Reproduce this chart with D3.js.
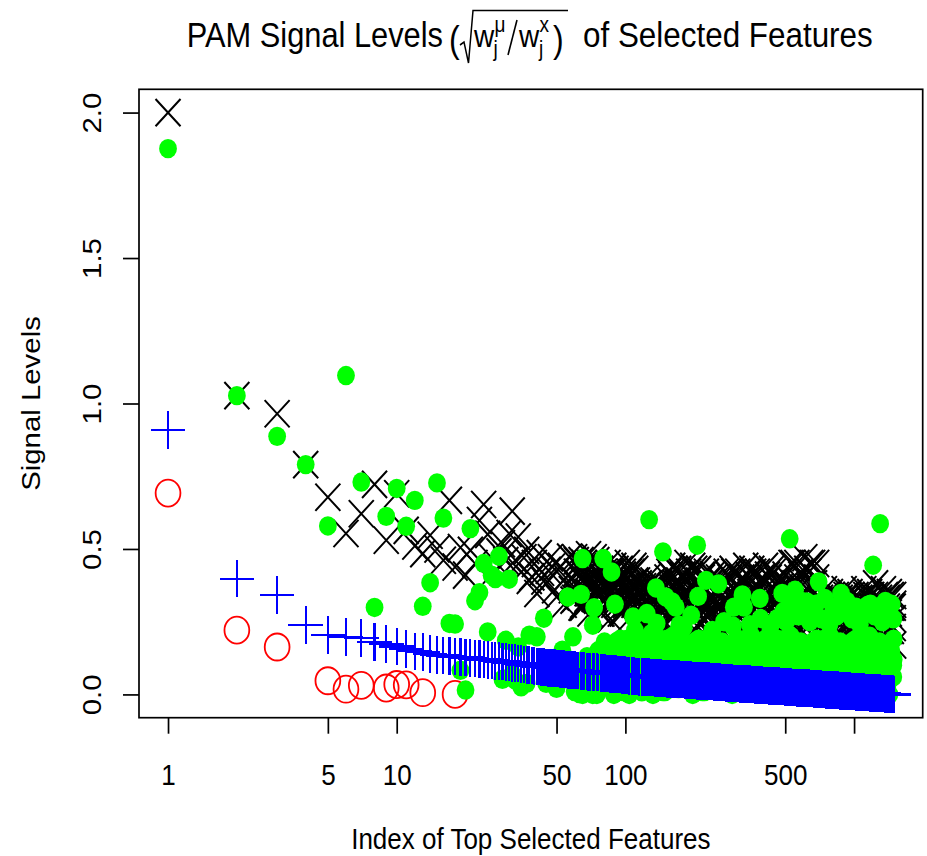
<!DOCTYPE html>
<html>
<head>
<meta charset="utf-8">
<script src="https://cdn.jsdelivr.net/npm/d3@7"></script>
<style>
  html, body { margin: 0; padding: 0; background: #fff; }
  svg { display: block; }
</style>
</head>
<body>
<svg id="chart" width="927" height="856"></svg>
<script>
// ---------------- data ----------------
const nFeatures = 1490;
const xTicks = [1, 5, 10, 50, 100, 500, 1000];
const xTickLabels = ['1', '5', '10', '50', '100', '500', ''];
const yTicks = [0, 0.5, 1.0, 1.5, 2.0];
const yTickLabels = ['0.0', '0.5', '1.0', '1.5', '2.0'];

// black crosses: [feature index, signal level] for the leading features
const blackEarly = [
  [1,2.0],[2,1.027],[3,0.965],[4,0.79],[5,0.678],[6,0.553],[7,0.621],[8,0.722],[9,0.53],[10,0.69],
  [11,0.564],[12,0.51],[13,0.484],[14,0.547],[15,0.5],[16,0.461],[17,0.667],[18,0.438],[19,0.505],[20,0.41],
  [21,0.495],[22,0.45],[23,0.598],[24,0.653],[25,0.55],[26,0.47],[27,0.427],[28,0.49],[29,0.518],[30,0.46],
  [31,0.553],[32,0.63],[33,0.461],[34,0.541],[35,0.42],[36,0.47],[37,0.495],[38,0.392],[39,0.404],[40,0.45],
  [41,0.347],[42,0.484],[43,0.42],[44,0.39],[45,0.381],[46,0.427],[47,0.47],[48,0.438],[49,0.36],[50,0.335],
  [52,0.44],[54,0.31],[55,0.40],[57,0.472],[58,0.36],[59,0.324]
];

// blue plus signs for features 1..59 (one value per index)
const blueEarly = [
  0.908,0.398,0.341,0.238,0.204,0.198,0.194,0.180,0.174,0.165,
  0.155,0.148,0.145,0.138,0.136,0.134,0.132,0.130,0.129,0.127,
  0.125,0.123,0.121,0.120,0.118,0.117,0.116,0.114,0.113,0.111,
  0.110,0.108,0.107,0.106,0.104,0.103,0.101,0.100,0.099,0.097,
  0.096,0.096,0.095,0.094,0.093,0.092,0.091,0.091,0.090,0.089,
  0.089,0.088,0.087,0.087,0.086,0.085,0.085,0.084,0.084
];

// red open circles
const redPts = [
  [1,0.692],[2,0.221],[3,0.163],[5,0.047],[6,0.018],[7,0.031],[9,0.022],[10,0.034],[11,0.033],[13,0.006],[18,0.0]
];

// green dots listed individually (leading features and the scattered high ones)
const greenPts = [
  [1,1.876],[2,1.027],[3,0.887],[4,0.79],[5,0.579],[6,1.096],[7,0.73],[8,0.299],[9,0.612],[10,0.708],
  [11,0.578],[12,0.667],[13,0.303],[14,0.384],[15,0.727],[16,0.606],[17,0.244],[18,0.242],[19,0.083],[20,0.015],
  [21,0.57],[22,0.322],[23,0.35],[24,0.45],[25,0.215],[26,0.41],[27,0.398],[28,0.475],[29,0.052],[30,0.186],
  [31,0.396],[32,0.07],[33,0.049],[34,0.163],[35,0.026],[37,0.038],[38,0.204],[41,0.198],[44,0.262],[45,0.038],
  [50,0.021],[53,0.152],[56,0.335],[59,0.198],[63,0.003],[64,0.344],[65,0.467],[72,0.238],[73,0.298],[75,0.0],
  [77,0.141],[80,0.467],[87,0.421],[90,0.31],[91,0.163],[101,0.175],[104,0.0],[108,0.266],[110,0.22],[118,0.009],
  [124,0.278],[127,0.601],[130,0.21],[136,0.366],[137,0.244],[146,0.49],[150,0.335],[160,0.318],[166,0.30],[172,0.238],
  [180,0.23],[194,0.272],[206,0.513],[208,0.337],[225,0.392],[240,0.22],[255,0.38],[270,0.25],[295,0.235],[298,0.30],
  [325,0.342],[330,0.30],[350,0.24],[387,0.33],[390,0.261],[413,0.192],[430,0.23],[460,0.26],[485,0.347],[490,0.284],
  [505,0.25],[523,0.535],[530,0.30],[552,0.358],[570,0.27],[590,0.32],[622,0.318],[640,0.25],[655,0.29],[680,0.31],
  [700,0.387],[720,0.26],[745,0.33],[780,0.24],[810,0.30],[840,0.27],[877,0.347],[900,0.29],[930,0.32],[980,0.26],
  [1020,0.30],[1060,0.24],[1100,0.28],[1150,0.307],[1180,0.31],[1212,0.444],[1230,0.27],[1280,0.30],[1300,0.587],[1330,0.25],
  [1370,0.32],[1400,0.27],[1420,0.30],[1460,0.31],[1485,0.26]
];

// feature indices of the dense tail (60 .. 1490), shared by the tail series below
const denseIdx = [
  60,61,62,64,65,66,68,69,70,72,73,75,76,78,79,81,82,84,86,87,
  89,91,93,95,97,98,100,102,104,107,109,111,113,115,118,120,122,125,127,130,
  132,135,138,141,143,146,149,152,155,158,161,165,168,171,175,178,182,186,189,193,
  197,201,205,209,213,217,222,226,231,235,240,245,250,255,260,265,270,276,281,287,
  293,298,304,310,317,323,329,336,343,350,357,364,371,378,386,394,402,410,418,426,
  435,443,452,461,471,480,490,499,509,520,530,541,551,562,574,585,597,609,621,633,
  646,659,672,686,699,713,728,742,757,772,788,803,819,836,853,870,887,905,923,941,
  960,979,999,1019,1039,1060,1081,1103,1125,1147,1170,1194,1218,1242,1267,1292,1318,1344,1371,1399,
  1427,1455,1484,1490
];

// black crosses along the tail: three interleaved sets across the band
const blackDenseA = [
  .47,.35,.42,.30,.39,.45,.33,.40,.28,.37,.47,.35,.42,.28,.36,.42,.31,.37,.26,.35,
  .44,.33,.39,.28,.36,.42,.31,.37,.26,.35,.44,.33,.39,.22,.31,.37,.25,.32,.20,.29,
  .39,.27,.34,.22,.31,.37,.25,.32,.20,.31,.44,.29,.38,.23,.34,.41,.26,.35,.20,.31,
  .44,.29,.38,.23,.34,.41,.26,.32,.18,.29,.41,.26,.35,.20,.31,.38,.24,.32,.18,.30,
  .43,.27,.36,.21,.32,.40,.25,.34,.18,.30,.43,.27,.36,.21,.32,.40,.25,.34,.18,.30,
  .43,.27,.36,.19,.30,.37,.23,.31,.17,.28,.45,.27,.38,.19,.33,.42,.24,.35,.16,.30,
  .45,.27,.38,.19,.27,.33,.20,.28,.15,.24,.35,.22,.30,.17,.27,.33,.20,.28,.15,.24,
  .35,.22,.30,.17,.27,.33,.20,.28,.15,.24,.35,.22,.30,.38,.27,.33,.20,.28,.15,.24,
  .35,.22,.30,.17
];
const blackDenseB = [
  .39,.46,.34,.43,.30,.41,.35,.48,.37,.44,.39,.46,.34,.40,.28,.38,.33,.45,.35,.42,
  .37,.43,.31,.40,.28,.38,.33,.45,.35,.42,.37,.43,.31,.35,.24,.34,.29,.40,.30,.37,
  .32,.38,.27,.35,.24,.34,.29,.40,.32,.41,.35,.43,.28,.39,.24,.37,.30,.45,.32,.41,
  .35,.43,.28,.39,.24,.37,.30,.42,.30,.38,.32,.40,.26,.36,.22,.34,.28,.42,.31,.40,
  .33,.42,.26,.37,.22,.35,.29,.44,.31,.40,.33,.42,.26,.37,.22,.35,.29,.44,.31,.40,
  .33,.42,.26,.35,.22,.33,.28,.41,.30,.37,.35,.45,.27,.40,.22,.37,.30,.47,.32,.42,
  .35,.45,.27,.40,.20,.30,.25,.36,.26,.33,.28,.34,.23,.31,.20,.30,.25,.36,.26,.33,
  .28,.34,.23,.31,.20,.30,.25,.36,.26,.33,.28,.34,.23,.31,.20,.30,.25,.36,.26,.33,
  .28,.34,.23,.31
];
const blackDenseC = [
  .33,.42,.37,.46,.31,.44,.39,.35,.45,.41,.33,.42,.37,.43,.29,.41,.37,.32,.42,.38,
  .31,.39,.35,.43,.29,.41,.37,.32,.42,.38,.31,.39,.35,.38,.25,.36,.32,.28,.38,.34,
  .26,.34,.30,.38,.25,.36,.32,.28,.42,.37,.27,.38,.32,.43,.25,.40,.35,.29,.42,.37,
  .27,.38,.32,.43,.25,.40,.35,.27,.39,.34,.25,.35,.30,.40,.23,.37,.32,.27,.41,.35,
  .25,.36,.31,.42,.23,.39,.33,.28,.41,.35,.25,.36,.31,.42,.23,.39,.33,.28,.41,.35,
  .25,.36,.31,.39,.23,.36,.32,.27,.38,.33,.26,.38,.32,.45,.23,.41,.35,.28,.43,.37,
  .26,.38,.32,.45,.21,.32,.28,.24,.34,.30,.22,.30,.26,.34,.21,.32,.28,.24,.34,.30,
  .22,.30,.26,.34,.21,.32,.28,.24,.34,.30,.22,.30,.26,.34,.21,.32,.28,.24,.34,.30,
  .22,.30,.26,.34
];

// green dots along the tail (two interleaved sets)
const greenDenseA = [
  .01,.08,.03,.10,.00,.06,.02,.09,.04,.12,.01,.07,.15,.02,.12,.06,.17,.09,.04,.14,
  .00,.18,.10,.05,.16,.01,.11,.19,.07,.13,.03,.15,.08,.02,.12,.06,.17,.09,.04,.14,
  .00,.18,.10,.05,.16,.01,.11,.19,.07,.13,.03,.15,.08,.02,.12,.06,.17,.09,.04,.14,
  .00,.18,.10,.05,.16,.01,.11,.19,.07,.13,.03,.15,.08,.02,.12,.06,.17,.09,.04,.14,
  .00,.18,.10,.05,.16,.01,.11,.19,.07,.13,.03,.15,.08,.02,.12,.06,.17,.09,.04,.14,
  .00,.18,.10,.05,.16,.01,.11,.19,.07,.13,.03,.15,.08,.02,.12,.06,.17,.09,.04,.14,
  .00,.18,.10,.05,.16,.01,.11,.19,.07,.13,.03,.15,.08,.02,.12,.06,.17,.09,.04,.14,
  .00,.18,.10,.05,.16,.01,.11,.19,.07,.13,.03,.15,.08,.02,.12,.06,.17,.09,.04,.14,
  .00,.18,.10,.12
];
const greenDenseB = [
  .05,.02,.11,.04,.08,.01,.13,.03,.06,.00,.10,.04,.02,.14,.05,.18,.08,.12,.16,.03,
  .10,.15,.06,.19,.09,.13,.01,.17,.11,.07,.20,.04,.12,.14,.05,.18,.08,.12,.16,.03,
  .10,.15,.06,.19,.09,.13,.01,.17,.11,.07,.20,.04,.12,.14,.05,.18,.08,.12,.16,.03,
  .10,.15,.06,.19,.09,.13,.01,.17,.11,.07,.20,.04,.12,.14,.05,.18,.08,.12,.16,.03,
  .10,.15,.06,.19,.09,.13,.01,.17,.11,.07,.20,.04,.12,.14,.05,.18,.08,.12,.16,.03,
  .10,.15,.06,.19,.09,.13,.01,.17,.11,.07,.20,.04,.12,.14,.05,.18,.08,.12,.16,.03,
  .10,.15,.06,.19,.09,.13,.01,.17,.11,.07,.20,.04,.12,.14,.05,.18,.08,.12,.16,.03,
  .10,.15,.06,.19,.09,.13,.01,.17,.11,.07,.20,.04,.12,.14,.05,.18,.08,.12,.16,.03,
  .10,.15,.06,.19
];

// blue plus signs along the tail
const blueDense = [
  .083,.082,.082,.081,.080,.080,.079,.078,.078,.077,.076,.076,.075,.074,.074,.073,.072,.072,.071,.070,
  .070,.069,.068,.068,.067,.066,.066,.065,.064,.064,.063,.062,.062,.061,.061,.060,.060,.059,.059,.058,
  .058,.057,.057,.056,.056,.055,.055,.054,.054,.053,.053,.053,.052,.052,.051,.051,.050,.050,.049,.049,
  .048,.048,.047,.047,.046,.046,.046,.045,.045,.044,.044,.043,.043,.042,.042,.041,.041,.040,.040,.039,
  .039,.038,.038,.038,.037,.037,.036,.036,.035,.035,.034,.034,.033,.033,.032,.032,.031,.031,.031,.030,
  .030,.029,.029,.028,.028,.027,.027,.026,.026,.025,.025,.024,.024,.023,.023,.023,.022,.022,.021,.021,
  .020,.020,.019,.019,.018,.018,.017,.017,.016,.016,.016,.015,.015,.014,.014,.013,.013,.012,.012,.011,
  .011,.010,.010,.009,.009,.008,.008,.008,.007,.007,.006,.006,.005,.005,.004,.004,.003,.003,.002,.002,
  .001,.001,.001,.000
];

// ---------------- layout ----------------
const FONT = '"Liberation Sans", Arial, Helvetica, sans-serif';
const box = { l: 139, r: 922.7, t: 89.3, b: 717.7 };
const SY = 1.09;          // vertical aspect of marks
const TS = 1.13;          // vertical aspect of text

const tail = vals => denseIdx.map((i, k) => [i, vals[k]]);
const blackPts = blackEarly.concat(tail(blackDenseA), tail(blackDenseB), tail(blackDenseC));
const greenAll = greenPts.concat(tail(greenDenseA), tail(greenDenseB));
const bluePts = blueEarly.map((v, k) => [k + 1, v]).concat(tail(blueDense));

// R-style 4% axis extension
const L = Math.log10(nFeatures);
const x = d3.scaleLog()
  .domain([Math.pow(10, -0.04 * L), Math.pow(10, 1.04 * L)])
  .range([box.l, box.r]);
const yRange = [0, 2];
const yPad = 0.04 * (yRange[1] - yRange[0]);
const y = d3.scaleLinear()
  .domain([yRange[0] - yPad, yRange[1] + yPad])
  .range([box.b, box.t]);

const svg = d3.select('#chart');
svg.append('rect').attr('width', 927).attr('height', 856).attr('fill', '#fff');

// ---------------- marks ----------------
const marks = svg.append('g');

const xa = 12.5, xb = 12.5 * SY;        // cross half sizes
const pa = 17.3, pb = 17.3 * SY;        // plus half sizes

marks.append('g').selectAll('path').data(blackPts).join('path')
  .attr('transform', d => `translate(${x(d[0])},${y(d[1])})`)
  .attr('d', `M${-xa},${-xb}L${xa},${xb}M${-xa},${xb}L${xa},${-xb}`)
  .attr('stroke', '#000').attr('stroke-width', 2).attr('fill', 'none');

marks.append('g').selectAll('ellipse').data(redPts).join('ellipse')
  .attr('cx', d => x(d[0])).attr('cy', d => y(d[1]))
  .attr('rx', 12.4).attr('ry', 12.4 * SY)
  .attr('fill', 'none').attr('stroke', '#ff0000').attr('stroke-width', 1.8);

marks.append('g').selectAll('ellipse').data(greenAll).join('ellipse')
  .attr('cx', d => x(d[0])).attr('cy', d => y(d[1]))
  .attr('rx', 8.9).attr('ry', 8.9 * SY)
  .attr('fill', '#00ff00');

marks.append('g').attr('shape-rendering', 'crispEdges')
  .selectAll('path').data(bluePts).join('path')
  .attr('transform', d => `translate(${x(d[0])},${y(d[1])})`)
  .attr('d', `M${-pa},0H${pa}M0,${-pb}V${pb}`)
  .attr('stroke', '#0000ff').attr('stroke-width', 2.2).attr('fill', 'none');

// ---------------- frame and axes ----------------
svg.append('rect')
  .attr('x', box.l).attr('y', box.t)
  .attr('width', box.r - box.l).attr('height', box.b - box.t)
  .attr('fill', 'none').attr('stroke', '#000').attr('stroke-width', 1.7);

const gx = svg.append('g')
  .attr('transform', `translate(0,${box.b})`)
  .call(d3.axisBottom(x).tickValues(xTicks)
    .tickFormat((d, i) => xTickLabels[i]).tickSize(16).tickPadding(0));
gx.select('.domain').remove();
gx.attr('font-family', FONT).attr('font-size', 26);
gx.selectAll('.tick line').attr('stroke', '#000').attr('stroke-width', 1.7);
gx.selectAll('.tick text')
  .attr('y', 0).attr('dy', 0).attr('fill', '#000')
  .attr('transform', `translate(0,${785 - box.b}) scale(1,${TS})`);

const gy = svg.append('g')
  .attr('transform', `translate(${box.l},0)`)
  .call(d3.axisLeft(y).tickValues(yTicks)
    .tickFormat((d, i) => yTickLabels[i]).tickSize(16).tickPadding(0));
gy.select('.domain').remove();
gy.attr('font-family', FONT).attr('font-size', 26);
gy.selectAll('.tick line').attr('stroke', '#000').attr('stroke-width', 1.7);
gy.selectAll('.tick text')
  .attr('x', 0).attr('dy', 0).attr('fill', '#000').attr('text-anchor', 'middle')
  .attr('transform', `translate(${101 - box.l},0) scale(1,${TS}) rotate(-90)`);

// axis titles
svg.append('text')
  .attr('transform', `translate(${(box.l + box.r) / 2},849) scale(1,${TS})`)
  .attr('text-anchor', 'middle').attr('font-family', FONT).attr('font-size', 26)
  .text('Index of Top Selected Features');

svg.append('text')
  .attr('transform', `translate(40,${(box.t + box.b) / 2}) scale(1,${TS}) rotate(-90)`)
  .attr('text-anchor', 'middle').attr('font-family', FONT).attr('font-size', 26)
  .text('Signal Levels');

// ---------------- title with radical ----------------
const base = 46.7;
const ly = v => (v - base) / TS;
const title = svg.append('g')
  .attr('font-family', FONT).attr('fill', '#000')
  .attr('transform', `translate(0,${base}) scale(1,${TS})`);

title.append('text').attr('x', 443).attr('y', 0).attr('text-anchor', 'end')
  .attr('font-size', 30.8).text('PAM Signal Levels');
title.append('text').attr('x', 449).attr('y', ly(52.4)).attr('font-size', 32).text('(');
title.append('path')
  .attr('d', `M460,${ly(45)}L464,${ly(42)}L468.5,${ly(63)}L473,${ly(10.5)}H568`)
  .attr('fill', 'none').attr('stroke', '#000').attr('stroke-width', 1.5);
title.append('text').attr('x', 474).attr('y', 0).attr('font-size', 28).text('w');
title.append('text').attr('x', 494.5).attr('y', ly(32)).attr('font-size', 19).text('\u03BC');
title.append('text').attr('x', 493.5).attr('y', ly(55.5)).attr('font-size', 19).text('j');
title.append('path')
  .attr('d', `M508,${ly(55)}L517,${ly(20)}`)
  .attr('stroke', '#000').attr('stroke-width', 1.6);
title.append('text').attr('x', 519).attr('y', 0).attr('font-size', 28).text('w');
title.append('text').attr('x', 539.5).attr('y', ly(32)).attr('font-size', 19).text('x');
title.append('text').attr('x', 539).attr('y', ly(55.5)).attr('font-size', 19).text('j');
title.append('text').attr('x', 553).attr('y', ly(52.4)).attr('font-size', 32).text(')');
title.append('text').attr('x', 583).attr('y', 0)
  .attr('font-size', 31.4).text('of Selected Features');
</script>
</body>
</html>
